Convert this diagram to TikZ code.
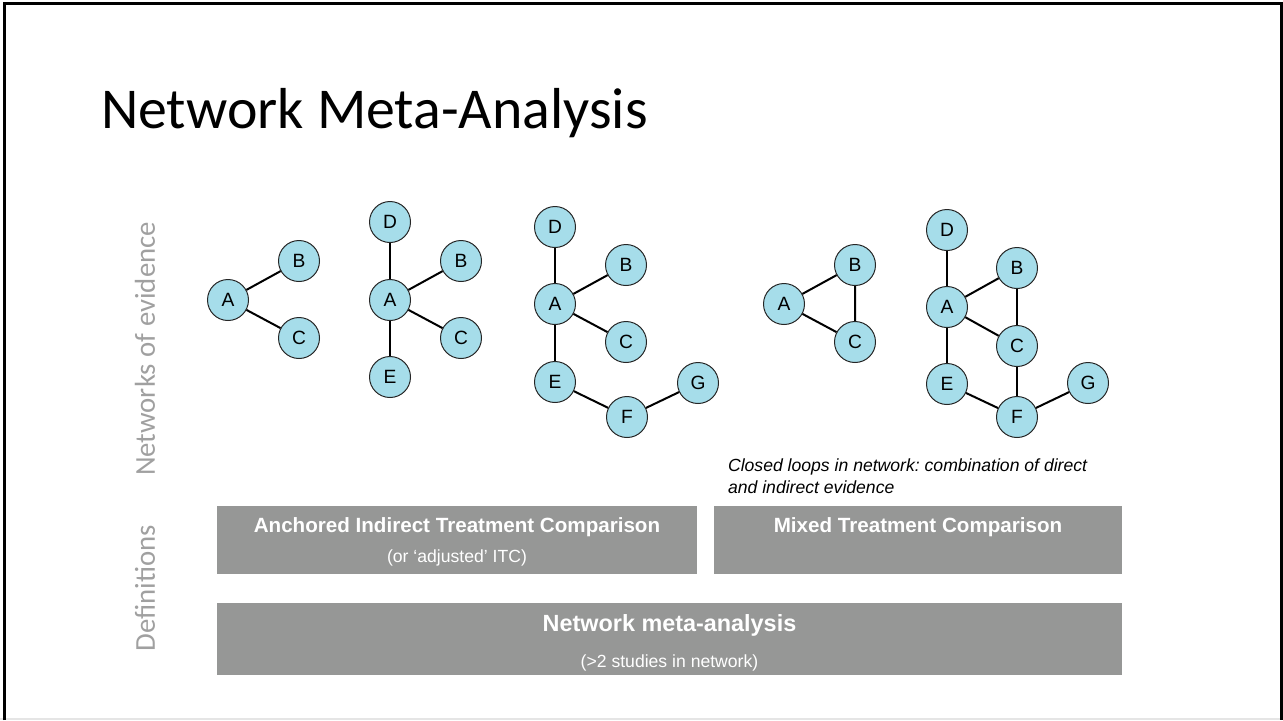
\documentclass[tikz,border=0pt]{standalone}
\usepackage{fontspec}
\setmainfont{Liberation Sans}
\newfontfamily\slidefont{Carlito}
\usepackage{tikz}
\usepackage{xcolor}
\definecolor{trtblue}{RGB}{166,221,234}
\definecolor{boxgray}{RGB}{150,151,150}
\definecolor{sidegray}{RGB}{160,160,160}
\frenchspacing

\begin{document}
\begin{tikzpicture}[x=0.5pt,y=-0.5pt,
  trt/.style={circle,draw=black!85,line width=0.5pt,fill=trtblue,minimum size=20.5pt,inner sep=0pt,font=\fontsize{9.6}{10}\selectfont},
  link/.style={line width=1pt,black},
  defbox/.style={rectangle,fill=boxgray,inner sep=0pt},
  boxhead/.style={anchor=base,white,font=\fontsize{10.3}{12}\selectfont\bfseries},
  boxsub/.style={anchor=base,white,font=\fontsize{8.8}{10}\selectfont},
  sidelabel/.style={rotate=90,sidegray,font=\slidefont\fontsize{14.4}{16}\selectfont}]
  \useasboundingbox (0,0) rectangle (1283,720);
  % slide frame
  \draw[black!10,line width=0.8pt] (0,719) -- (1283,719);
  \draw[line width=1.5pt] (4,720) -- (4,3.5) -- (1281,3.5) -- (1281,720);
  \node[anchor=base west,font=\slidefont\fontsize{28.9}{30}\selectfont] (title) at (94,128) {Network Meta-Analysis};
  \node[sidelabel] (netlab) at (145,349) {Networks of evidence};
  \node[sidelabel] (deflab) at (145,588) {Definitions};

  % network 1
  \node[trt] (a1) at (228,300) {A};
  \node[trt] (b1) at (299,261) {B};
  \node[trt] (c1) at (299,338) {C};
  \draw[link] (a1) -- (b1);
  \draw[link] (a1) -- (c1);

  % network 2
  \node[trt] (d2) at (390,222) {D};
  \node[trt] (a2) at (390,300) {A};
  \node[trt] (b2) at (461,261) {B};
  \node[trt] (c2) at (461,338) {C};
  \node[trt] (e2) at (390,377) {E};
  \foreach \t in {d2,b2,c2,e2} \draw[link] (a2) -- (\t);

  % network 3
  \node[trt] (d3) at (555,227) {D};
  \node[trt] (a3) at (555,304) {A};
  \node[trt] (b3) at (626,265) {B};
  \node[trt] (c3) at (626,342) {C};
  \node[trt] (e3) at (555,382) {E};
  \node[trt] (f3) at (627,417) {F};
  \node[trt] (g3) at (698,383) {G};
  \foreach \t in {d3,b3,c3,e3} \draw[link] (a3) -- (\t);
  \draw[link] (e3) -- (f3) -- (g3);

  % network 4 (closed loop)
  \node[trt] (a4) at (784,304) {A};
  \node[trt] (b4) at (855,265) {B};
  \node[trt] (c4) at (855,342) {C};
  \draw[link] (a4) -- (b4) -- (c4) -- (a4);

  % network 5
  \node[trt] (d5) at (947,230) {D};
  \node[trt] (a5) at (947,307) {A};
  \node[trt] (b5) at (1017,268) {B};
  \node[trt] (c5) at (1017,346) {C};
  \node[trt] (e5) at (947,384) {E};
  \node[trt] (f5) at (1017,417) {F};
  \node[trt] (g5) at (1088,383) {G};
  \foreach \t in {d5,b5,c5,e5} \draw[link] (a5) -- (\t);
  \draw[link] (b5) -- (c5) -- (f5);
  \draw[link] (e5) -- (f5) -- (g5);

  \node[anchor=base west,align=left,font=\fontsize{8.8}{11}\selectfont\itshape] (loops) at (721,493)
    {Closed loops in network: combination of direct\\and indirect evidence};

  % definitions
  \node[defbox,minimum width=240pt,minimum height=34pt] (itc) at (457,540) {};
  \node[boxhead] (itchead) at (457,532) {Anchored Indirect Treatment Comparison};
  \node[boxsub] (itcsub) at (457,562) {(or ‘adjusted’ ITC)};
  \node[defbox,minimum width=204pt,minimum height=34pt] (mtc) at (918,540) {};
  \node[boxhead] (mtchead) at (918,532) {Mixed Treatment Comparison};
  \node[defbox,minimum width=452.5pt,minimum height=36pt] (nma) at (669.5,639) {};
  \node[boxhead,font=\fontsize{11.7}{13}\selectfont\bfseries] (nmahead) at (669.5,631) {Network meta-analysis};
  \node[boxsub] (nmasub) at (669.5,667) {(>2 studies in network)};
\end{tikzpicture}
\end{document}
